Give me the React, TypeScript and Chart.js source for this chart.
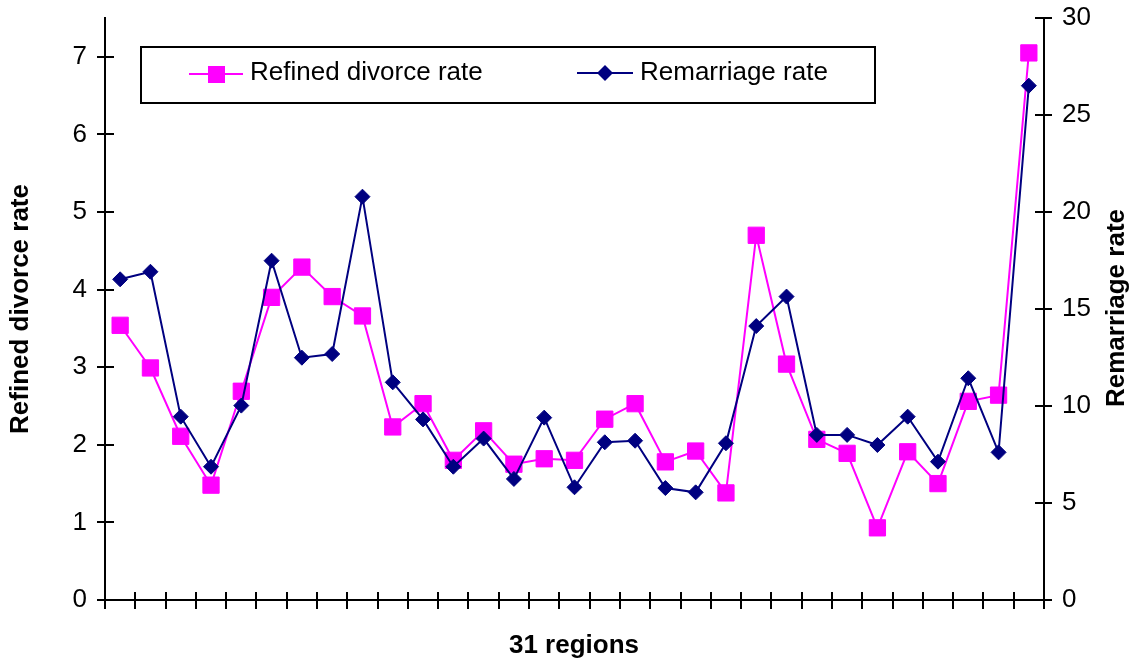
import { useEffect, useRef } from "react";
import { Chart, registerables } from "chart.js";

Chart.register(...registerables);

// ---- Data ----
const regionLabels = [
  "1", "2", "3", "4", "5", "6", "7", "8", "9", "10",
  "11", "12", "13", "14", "15", "16", "17", "18", "19", "20",
  "21", "22", "23", "24", "25", "26", "27", "28", "29", "30", "31",
];

const divorceRate = [
  3.54, 2.99, 2.11, 1.48, 2.69, 3.9, 4.29, 3.91, 3.66, 2.23,
  2.53, 1.8, 2.18, 1.75, 1.82, 1.8, 2.33, 2.53, 1.78, 1.92,
  1.38, 4.7, 3.04, 2.07, 1.89, 0.93, 1.91, 1.5, 2.56, 2.64, 7.05,
];

const remarriageRate = [
  16.53, 16.92, 9.45, 6.87, 10.02, 17.49, 12.49, 12.68, 20.79, 11.22,
  9.31, 6.87, 8.32, 6.24, 9.4, 5.81, 8.13, 8.21, 5.77, 5.55,
  8.08, 14.12, 15.64, 8.51, 8.51, 7.99, 9.45, 7.13, 11.43, 7.61, 26.51,
];

const seriesNames = ["Refined divorce rate", "Remarriage rate"];
const xTitle = "31 regions";
const leftTitle = "Refined divorce rate";
const rightTitle = "Remarriage rate";

// ---- Styles ----
const FONT = '"Liberation Sans", Arial, Helvetica, sans-serif';
const PINK = "#FF00FF";
const NAVY = "#000080";
const FS = 26;

type TextOpts = {
  align?: CanvasTextAlign;
  bold?: boolean;
  size: number;
  rot?: boolean;
};

function drawText(ctx: CanvasRenderingContext2D, s: string, x: number, y: number, o: TextOpts) {
  ctx.save();
  ctx.font = `${o.bold ? "bold " : ""}${o.size}px ${FONT}`;
  ctx.translate(x, y);
  if (o.rot) ctx.rotate(-Math.PI / 2);
  ctx.textAlign = o.align ?? "left";
  ctx.textBaseline = "middle";
  ctx.fillStyle = "#000";
  ctx.fillText(s, 0, 0);
  ctx.restore();
}

const decorPlugin = {
  id: "decor",
  beforeDatasetsDraw(chart: any) {
    const ctx: CanvasRenderingContext2D = chart.ctx;
    const xs = chart.scales.x;
    const ys = chart.scales.y;
    const ys2 = chart.scales.y2;
    const top = chart.chartArea.top;
    const bottom = chart.chartArea.bottom;
    const left = chart.chartArea.left;
    const right = chart.chartArea.right;

    ctx.save();
    ctx.strokeStyle = "#000";
    ctx.lineWidth = 2;
    ctx.beginPath();
    // axis lines
    ctx.moveTo(left, top - 1);
    ctx.lineTo(left, bottom + 1);
    ctx.moveTo(right, top - 1);
    ctx.lineTo(right, bottom + 1);
    ctx.moveTo(left, bottom);
    ctx.lineTo(right, bottom);
    // left ticks
    ys.ticks.forEach((t: any) => {
      if (!Number.isInteger(t.value)) return;
      const p = Math.round(ys.getPixelForValue(t.value));
      ctx.moveTo(left - 8, p);
      ctx.lineTo(left + 9, p);
    });
    // right ticks
    ys2.ticks.forEach((t: any) => {
      const p = Math.round(ys2.getPixelForValue(t.value));
      ctx.moveTo(right - 9, p);
      ctx.lineTo(right + 8, p);
    });
    // x ticks at category boundaries
    for (let k = 0; k <= regionLabels.length; k++) {
      const px = Math.round(xs.getPixelForValue(k - 0.5));
      ctx.moveTo(px, bottom - 8);
      ctx.lineTo(px, bottom + 9);
    }
    ctx.stroke();
    ctx.restore();

    // tick labels
    ys.ticks.forEach((t: any) => {
      if (!Number.isInteger(t.value)) return;
      const p = ys.getPixelForValue(t.value);
      drawText(ctx, String(t.value), left - 18, p, { align: "right", size: FS });
    });
    ys2.ticks.forEach((t: any) => {
      const p = ys2.getPixelForValue(t.value);
      drawText(ctx, String(t.value), right + 18, p, { align: "left", size: FS });
    });

    // axis titles
    drawText(ctx, xTitle, 574, 646, { align: "center", bold: true, size: FS });
    drawText(ctx, leftTitle, 21, 309, { align: "center", bold: true, size: FS, rot: true });
    drawText(ctx, rightTitle, 1117, 308, { align: "center", bold: true, size: FS, rot: true });
  },
  afterDatasetsDraw(chart: any) {
    const ctx: CanvasRenderingContext2D = chart.ctx;
    ctx.save();
    // legend box
    ctx.fillStyle = "#fff";
    ctx.fillRect(141, 47, 734, 56);
    ctx.strokeStyle = "#000";
    ctx.lineWidth = 2;
    ctx.strokeRect(141, 47, 734, 56);

    // item 1
    ctx.strokeStyle = PINK;
    ctx.lineWidth = 2;
    ctx.beginPath();
    ctx.moveTo(189, 74);
    ctx.lineTo(243, 74);
    ctx.stroke();
    ctx.fillStyle = PINK;
    ctx.fillRect(208, 66, 17, 17);

    // item 2
    ctx.strokeStyle = NAVY;
    ctx.beginPath();
    ctx.moveTo(577, 73);
    ctx.lineTo(633, 73);
    ctx.stroke();
    ctx.fillStyle = NAVY;
    ctx.beginPath();
    ctx.moveTo(605 - 8, 73);
    ctx.lineTo(605, 73 - 8);
    ctx.lineTo(605 + 8, 73);
    ctx.lineTo(605, 73 + 8);
    ctx.closePath();
    ctx.fill();
    ctx.restore();

    drawText(ctx, seriesNames[0], 250, 73, { align: "left", size: FS });
    drawText(ctx, seriesNames[1], 640, 73, { align: "left", size: FS });
  },
};

export default function App() {
  const canvasRef = useRef<HTMLCanvasElement | null>(null);

  useEffect(() => {
    document.body.style.margin = "0";
    const canvas = canvasRef.current;
    if (!canvas) return;
    const chart = new Chart(canvas, {
      type: "line",
      data: {
        labels: regionLabels,
        datasets: [
          {
            label: seriesNames[0],
            data: divorceRate,
            yAxisID: "y",
            borderColor: PINK,
            backgroundColor: PINK,
            borderWidth: 2,
            pointStyle: "rect",
            pointRadius: 11.5,
            pointBorderWidth: 1,
            pointBackgroundColor: PINK,
            pointBorderColor: PINK,
            tension: 0,
            order: 2,
          },
          {
            label: seriesNames[1],
            data: remarriageRate,
            yAxisID: "y2",
            borderColor: NAVY,
            backgroundColor: NAVY,
            borderWidth: 2,
            pointStyle: "rectRot",
            pointRadius: 7.5,
            pointBorderWidth: 1,
            pointBackgroundColor: NAVY,
            pointBorderColor: NAVY,
            tension: 0,
            order: 1,
          },
        ],
      },
      options: {
        responsive: false,
        animation: false,
        layout: { padding: { top: 18, left: 0, right: 0, bottom: 0 } },
        plugins: {
          legend: { display: false },
          tooltip: { enabled: false },
        },
        scales: {
          x: {
            type: "category",
            offset: true,
            grid: { display: false, drawTicks: false },
            border: { display: false },
            ticks: { display: false },
            afterFit(s: any) {
              s.height = 65;
            },
          },
          y: {
            position: "left",
            min: 0,
            max: 7.5,
            grid: { display: false, drawTicks: false },
            border: { display: false },
            ticks: { display: false, stepSize: 1, includeBounds: false },
            afterFit(s: any) {
              s.width = 105;
            },
          },
          y2: {
            position: "right",
            min: 0,
            max: 30,
            grid: { display: false, drawTicks: false },
            border: { display: false },
            ticks: { display: false, stepSize: 5 },
            afterFit(s: any) {
              s.width = 93;
            },
          },
        },
      } as any,
      plugins: [decorPlugin],
    });
    return () => chart.destroy();
  }, []);

  return (
    <div style={{ position: "fixed", left: 0, top: 0, width: 1137, height: 665, background: "#fff" }}>
      <canvas ref={canvasRef} width={1137} height={665} style={{ width: 1137, height: 665, display: "block" }} />
    </div>
  );
}
